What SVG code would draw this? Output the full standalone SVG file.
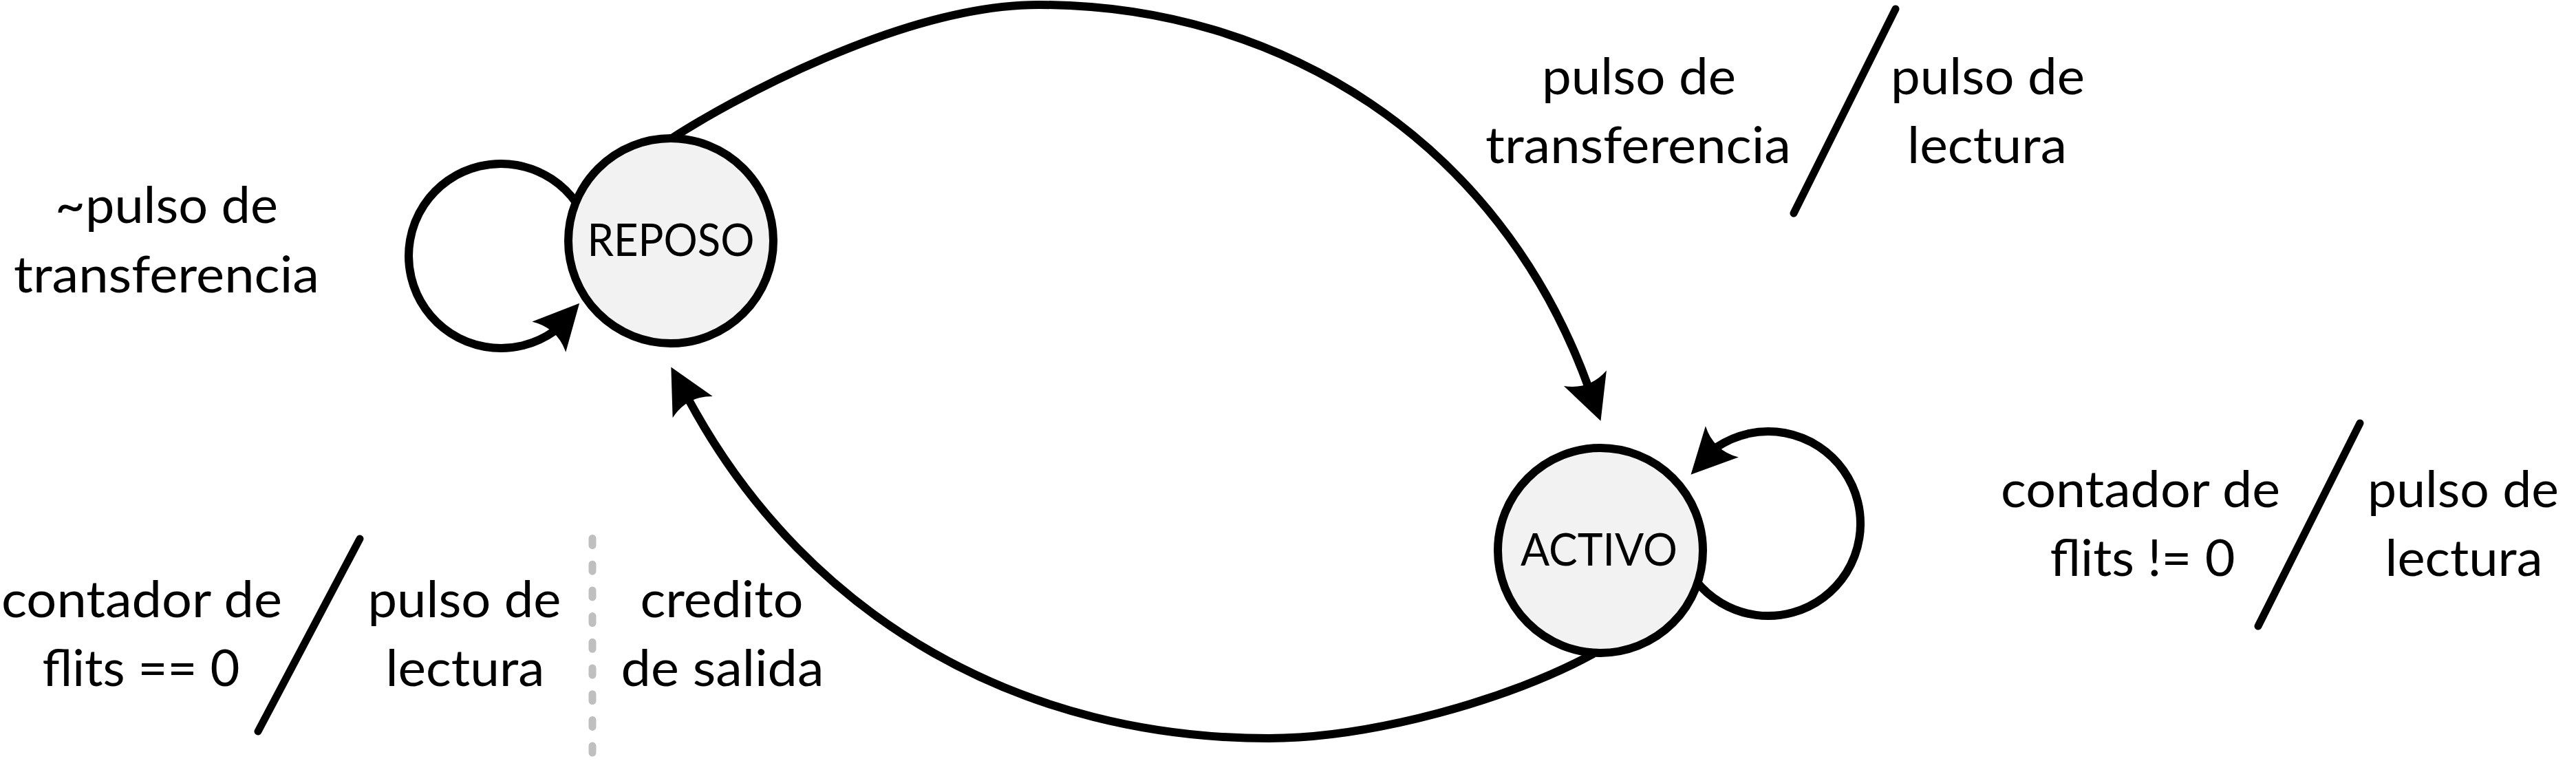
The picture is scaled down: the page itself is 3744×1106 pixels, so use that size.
<svg xmlns="http://www.w3.org/2000/svg" width="3744" height="1106" viewBox="0 0 3744 1106">
<style>
.bg{fill:#ffffff}
.node{fill:#f2f2f2;stroke:#000000;stroke-width:12}
.conn{fill:none;stroke:#000000;stroke-width:12;marker-end:url(#ah)}
.slash{fill:none;stroke:#000000;stroke-width:11;stroke-linecap:round}
.sep{fill:none;stroke:#bfbfbf;stroke-width:11;stroke-linecap:round;stroke-dasharray:10 27.7}
.lbl{font-family:Lato,"Liberation Sans",sans-serif;font-size:73px;fill:#000000;text-anchor:middle}
.nlbl{font-family:Lato,"Liberation Sans",sans-serif;font-size:66px;fill:#000000;text-anchor:middle}
</style>
<defs>
<marker id="ah" markerUnits="userSpaceOnUse" markerWidth="80" markerHeight="80" refX="12" refY="0" orient="auto" overflow="visible">
<path d="M0,-33 L66,0 L0,33 Q18,0 0,-33 Z" fill="#000000"/>
</marker>
</defs>
<rect class="bg" x="0" y="0" width="3744" height="1106"/>
<g id="connectors">
<path id="e-reposo-activo" class="conn" d="M975,202 C1055,150 1310,7 1510,7 C1860,7 2178,204 2308,561"/>
<path id="e-activo-reposo" class="conn" d="M2316,950 C2196,1016 1994,1073 1844,1073 C1494,1073 1177,907 1001,581"/>
<path id="e-reposo-self" class="conn" d="M837.8,295.1 A134,134 0 1 0 805.2,481.5 l0.67,-0.74"/>
<path id="e-activo-self" class="conn" d="M2464.4,843.5 A134,134 0 1 0 2495.3,649.8 l-0.69,0.73"/>
</g>
<g id="node-reposo">
<circle class="node" cx="975" cy="350" r="149"/>
<text class="nlbl" x="975" y="372" textLength="243" lengthAdjust="spacingAndGlyphs">REPOSO</text>
</g>
<g id="node-activo">
<circle class="node" cx="2326" cy="800" r="149"/>
<text class="nlbl" x="2324" y="822" textLength="228" lengthAdjust="spacingAndGlyphs">ACTIVO</text>
</g>
<g id="label-reposo-self">
<text class="lbl" x="242" y="324" textLength="324" lengthAdjust="spacingAndGlyphs">~pulso de</text>
<text class="lbl" x="242" y="425" textLength="444" lengthAdjust="spacingAndGlyphs">transferencia</text>
</g>
<g id="label-reposo-activo">
<text class="lbl" x="2382" y="137" textLength="282" lengthAdjust="spacingAndGlyphs">pulso de</text>
<text class="lbl" x="2381" y="237" textLength="444" lengthAdjust="spacingAndGlyphs">transferencia</text>
<line class="slash" x1="2755" y1="13" x2="2607" y2="310"/>
<text class="lbl" x="2889" y="137" textLength="282" lengthAdjust="spacingAndGlyphs">pulso de</text>
<text class="lbl" x="2888" y="237" textLength="232" lengthAdjust="spacingAndGlyphs">lectura</text>
</g>
<g id="label-activo-self">
<text class="lbl" x="3111" y="737" textLength="406" lengthAdjust="spacingAndGlyphs">contador de</text>
<text class="lbl" x="3114" y="837" textLength="269" lengthAdjust="spacingAndGlyphs">flits != 0</text>
<line class="slash" x1="3430" y1="615" x2="3282" y2="910"/>
<text class="lbl" x="3580" y="737" textLength="278" lengthAdjust="spacingAndGlyphs">pulso de</text>
<text class="lbl" x="3581" y="837" textLength="229" lengthAdjust="spacingAndGlyphs">lectura</text>
</g>
<g id="label-activo-reposo">
<text class="lbl" x="206" y="897" textLength="408" lengthAdjust="spacingAndGlyphs">contador de</text>
<text class="lbl" x="205" y="997" textLength="287" lengthAdjust="spacingAndGlyphs">flits == 0</text>
<line class="slash" x1="523" y1="783" x2="375" y2="1063"/>
<text class="lbl" x="675" y="897" textLength="281" lengthAdjust="spacingAndGlyphs">pulso de</text>
<text class="lbl" x="676" y="997" textLength="231" lengthAdjust="spacingAndGlyphs">lectura</text>
<line class="sep" x1="861" y1="782.5" x2="861" y2="1099"/>
<text class="lbl" x="1049" y="897" textLength="237" lengthAdjust="spacingAndGlyphs">credito</text>
<text class="lbl" x="1050" y="997" textLength="295" lengthAdjust="spacingAndGlyphs">de salida</text>
</g>
</svg>
